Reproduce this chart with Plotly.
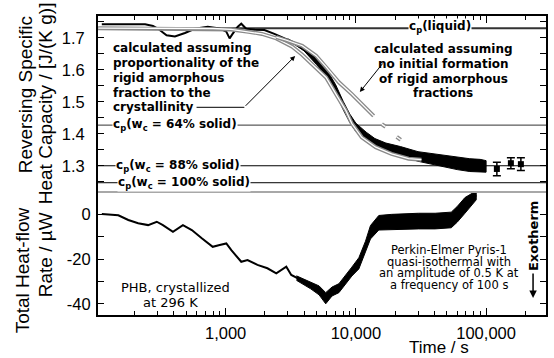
import plotly.graph_objects as go

# ---------------- data ----------------
# top panel: reversing specific heat capacity, J/(K g)
cp_t = [112, 179, 241, 277, 303, 352, 408, 487, 579, 729, 900, 1012, 1073, 1131, 1235, 1318, 1439,
        1664, 1985, 2367, 2723, 3363, 3802, 4227, 5036, 5910, 6560, 7680, 8530, 10000, 11120, 13250,
        16940, 22450, 30280, 45300, 61100, 86900, 100000]
cp_v = [1.742, 1.743, 1.742, 1.737, 1.728, 1.708, 1.704, 1.715, 1.728, 1.734, 1.729, 1.719, 1.698,
        1.712, 1.734, 1.744, 1.728, 1.725, 1.724, 1.712, 1.702, 1.685, 1.675, 1.653, 1.625, 1.592,
        1.555, 1.503, 1.462, 1.420, 1.399, 1.378, 1.358, 1.345, 1.328, 1.316, 1.306, 1.300, 1.298]
# scatter envelope of the noisy part
cpb_t = [3000, 4000, 5000, 6000, 7000, 8000, 9000, 10000, 12000, 14000, 17000, 22000, 30000,
         40000, 50000, 60000, 75000, 90000, 100000]
cpb_hi = [1.697, 1.669, 1.636, 1.599, 1.553, 1.501, 1.461, 1.433, 1.405, 1.385, 1.371, 1.360,
          1.344, 1.337, 1.331, 1.326, 1.322, 1.320, 1.316]
cpb_lo = [1.693, 1.659, 1.616, 1.575, 1.527, 1.475, 1.435, 1.407, 1.379, 1.359, 1.345, 1.332,
          1.314, 1.303, 1.295, 1.288, 1.282, 1.280, 1.280]

# calculated, proportional rigid amorphous fraction
calc1_t = [105, 800, 1100, 1500, 1900, 2450, 3250, 3870, 4620, 5910, 7030, 8390, 9310, 11100,
           14200, 18800, 25400, 31900]
calc1_v = [1.730, 1.729, 1.726, 1.719, 1.712, 1.698, 1.672, 1.647, 1.618, 1.576, 1.524, 1.472,
           1.432, 1.389, 1.358, 1.337, 1.322, 1.319]
# calculated, no initial rigid amorphous fraction
calc2_t = [2450, 2900, 3870, 4950, 5910, 7410, 9310, 11100, 13700]
calc2_v = [1.702, 1.693, 1.675, 1.644, 1.609, 1.561, 1.524, 1.493, 1.456]
calc2d_t = [15800, 16900, None, 20600, 22100]
calc2d_v = [1.430, 1.422, None, 1.390, 1.381]

# points with error bars
ep_t = [121000, 155000, 185000]
ep_v = [1.290, 1.308, 1.305]
ep_e = [0.021, 0.017, 0.020]

# reference heat-capacity levels
cp_liquid = 1.730
cp_64 = 1.427
cp_88 = 1.300
cp_100 = 1.247

# bottom panel: total heat-flow rate, microW
hf_t = [112, 126, 150, 179, 213, 254, 296, 330, 394, 470, 550, 656, 796, 900, 1012, 1106, 1318,
        1473, 1755, 2093, 2449, 2923, 3192, 4010, 4777, 5220, 5873, 6560, 7410, 8340, 9310, 10540,
        11860, 12950, 15000, 18840, 23940, 30270, 40600, 54000, 60000, 68800, 84000]
hf_v = [0.2, 0, -0.4, -2.5, -4, -4.8, -3.3, -4.8, -7.8, -4.8, -7, -10.7, -14.5, -13.7, -13, -16,
        -21.2, -20.4, -22.6, -24.1, -26.4, -23.4, -27.1, -30.1, -32.3, -34, -37.5, -34.5, -33,
        -29.3, -25.6, -21.9, -14.5, -8, -4, -3.5, -3.2, -3, -3, -2.5, 0, 4, 8.5]
hfb_t = [3500, 4500, 5220, 5870, 6560, 7410, 8340, 9310, 10540, 11860, 12950, 15000, 18840,
         23940, 30270, 40600, 54000, 60000, 68800, 84000]
hfb_hi = [-27.5, -30.3, -32, -35, -32.5, -31, -27.3, -23.6, -19.4, -12, -5, -0.5, 0, 0.3, 0.5,
          0.5, 1, 3.5, 7.5, 10.5]
hfb_lo = [-29.5, -33.3, -36, -40, -36.5, -35, -31.3, -27.6, -24.4, -17, -11, -7, -7, -6.7, -6.5,
          -6.5, -6, -3.5, 0.5, 6.5]

# axes ticks
x_major = [1000, 10000, 100000]
x_major_text = ["1,000", "10,000", "100,000"]
x_minor = [200, 300, 400, 500, 600, 700, 800, 900, 2000, 3000, 4000, 5000, 6000, 7000, 8000,
           9000, 20000, 30000, 40000, 50000, 60000, 70000, 80000, 90000, 200000]
y1_ticks = [1.25, 1.3, 1.35, 1.4, 1.45, 1.5, 1.55, 1.6, 1.65, 1.7, 1.75]
y1_text = ["", "1.3", "", "1.4", "", "1.5", "", "1.6", "", "1.7", ""]
y2_ticks = [-40, -30, -20, -10, 0]
y2_text = ["-40", "", "-20", "", "0"]

# ---------------- figure ----------------
L, R, T, B = 98, 548, 16, 315
W, H = 554, 358
SEP = 192


def px(x):
    return (x - L) / (R - L)


def py(y):
    return (B - y) / (B - T)


fig = go.Figure()

# noisy bands + measured curves
fig.add_trace(go.Scatter(x=cpb_t + cpb_t[::-1], y=cpb_hi + cpb_lo[::-1], fill="toself",
                         fillcolor="black", line=dict(color="black", width=1),
                         mode="lines", xaxis="x", yaxis="y", hoverinfo="skip"))
fig.add_trace(go.Scatter(x=cp_t, y=cp_v, mode="lines", line=dict(color="black", width=2),
                         xaxis="x", yaxis="y"))
# calculated curves (hollow gray look), drawn over the data
for tt, vv in [(calc1_t, calc1_v), (calc2_t, calc2_v), (calc2d_t, calc2d_v)]:
    fig.add_trace(go.Scatter(x=tt, y=vv, mode="lines", line=dict(color="#8a8a8a", width=4),
                             xaxis="x", yaxis="y", connectgaps=False))
    fig.add_trace(go.Scatter(x=tt, y=vv, mode="lines", line=dict(color="white", width=1.3),
                             xaxis="x", yaxis="y", connectgaps=False))
# error-bar points
fig.add_trace(go.Scatter(x=ep_t, y=ep_v, mode="markers",
                         marker=dict(symbol="square", size=6, color="black"),
                         error_y=dict(type="data", array=ep_e, color="black", thickness=1.5, width=4),
                         xaxis="x", yaxis="y"))

# heat flow
fig.add_trace(go.Scatter(x=hfb_t + hfb_t[::-1], y=hfb_hi + hfb_lo[::-1], fill="toself",
                         fillcolor="black", line=dict(color="black", width=1),
                         mode="lines", xaxis="x2", yaxis="y2", hoverinfo="skip"))
fig.add_trace(go.Scatter(x=hf_t, y=hf_v, mode="lines", line=dict(color="black", width=2),
                         xaxis="x2", yaxis="y2"))

# reference levels
shapes = []
for lvl, col, wd in [(cp_liquid, "#333333", 2), (cp_64, "#333333", 1), (cp_88, "black", 1),
                     (cp_100, "black", 1)]:
    shapes.append(dict(type="line", xref="paper", yref="y", x0=0, x1=1, y0=lvl, y1=lvl,
                       line=dict(color=col, width=wd), layer="below"))
# separator between panels
shapes.append(dict(type="line", xref="paper", yref="paper", x0=0, x1=1, y0=py(SEP), y1=py(SEP),
                   line=dict(color="#a8a8a8", width=2), layer="above"))
# leader line of left arrow
shapes.append(dict(type="line", xref="paper", yref="paper", x0=px(197), x1=px(245),
                   y0=py(107.3), y1=py(107.3), line=dict(color="black", width=1)))

bold_font = dict(family="DejaVu Sans", size=12, color="black")
ann = []


def text(s, x, y, font=None, xanchor="center", bg=None, angle=0):
    d = dict(text=s, xref="paper", yref="paper", x=px(x), y=py(y), showarrow=False,
             xanchor=xanchor, yanchor="middle", font=font or bold_font, textangle=angle,
             borderpad=0)
    if bg:
        d["bgcolor"] = bg
    ann.append(d)


for s, y in [("calculated assuming", 48.3), ("proportionality of the", 63.3),
             ("rigid amorphous", 78.3), ("fraction to the", 93.3), ("crystallinity", 107.3)]:
    text("<b>" + s + "</b>", 112, y, xanchor="left")
for s, y in [("calculated assuming", 49), ("no initial formation", 64),
             ("of rigid amorphous", 78.5), ("fractions", 93)]:
    text("<b>" + s + "</b>", 445, y)

text("<b>c<sub>p</sub>(liquid)</b>", 442, 27, bg="white")
text("<b>c<sub>p</sub>(w<sub>c</sub> = 64% solid)</b>", 112, 125, xanchor="left", bg="white")
text("<b>c<sub>p</sub>(w<sub>c</sub> = 88% solid)</b>", 115, 165.5, xanchor="left", bg="white")
text("<b>c<sub>p</sub>(w<sub>c</sub> = 100% solid)</b>", 117, 182.5, xanchor="left", bg="white")

reg = dict(family="DejaVu Sans", size=11.5, color="black")
for s, y in [("Perkin-Elmer Pyris-1", 250), ("quasi-isothermal with", 261.7),
             ("an amplitude of 0.5 K at", 273.4), ("a frequency of 100 s", 285)]:
    text(s, 451, y, font=reg)
phb = dict(family="DejaVu Sans", size=13, color="black")
text("PHB, crystallized", 176, 287.5, font=phb)
text("at 296 K", 171, 302, font=phb)
text("<b>Exotherm</b>", 535, 236, font=dict(family="DejaVu Sans", size=13, color="black"), angle=-90)

axt = dict(family="Liberation Sans, Arial", size=19, color="black")
text("Reversing Specific", 25, 95, font=axt, angle=-90)
text("Heat Capacity / [J/(K g)]", 45, 103, font=axt, angle=-90)
text("Total Heat-flow", 22, 270, font=axt, angle=-90)
text("Rate / µW", 45, 255, font=axt, angle=-90)
text("Time / s", 441, 347, font=dict(family="Liberation Sans, Arial", size=17, color="black"))

# arrows
ann.append(dict(xref="paper", yref="paper", x=px(296), y=py(56), ax=245 - 296, ay=107.3 - 56,
                showarrow=True, arrowhead=2, arrowsize=1, arrowwidth=1, arrowcolor="black", text=""))
ann.append(dict(xref="paper", yref="paper", x=px(361), y=py(92), ax=385 - 361, ay=62 - 92,
                showarrow=True, arrowhead=2, arrowsize=1, arrowwidth=1, arrowcolor="black", text=""))
ann.append(dict(xref="paper", yref="paper", x=px(535), y=py(298), ax=0, ay=-26,
                showarrow=True, arrowhead=2, arrowsize=1, arrowwidth=1.5, arrowcolor="black", text=""))

tickfont = dict(family="Liberation Sans, Arial", size=16.5, color="black")
xcommon = dict(type="log", range=[2.02, 5.46], showgrid=False, zeroline=False,
               tickmode="array", tickvals=x_major, ticks="inside", ticklen=7, tickwidth=1,
               tickcolor="black",
               minor=dict(tickmode="array", tickvals=x_minor, ticks="inside", ticklen=4,
                          tickwidth=1, tickcolor="black", showgrid=False),
               showline=True, linecolor="black", linewidth=2, mirror=False)
fig.update_layout(
    width=W, height=H, margin=dict(l=L, r=W - R, t=T, b=H - B),
    paper_bgcolor="white", plot_bgcolor="white", showlegend=False, hovermode=False,
    xaxis=dict(xcommon, domain=[0, 1], anchor="y", side="top", showticklabels=False),
    xaxis2=dict(xcommon, domain=[0, 1], anchor="y2", side="bottom", ticktext=x_major_text,
                tickfont=tickfont, ticklabelstandoff=2),
    yaxis=dict(domain=[py(SEP), 1], range=[1.218, 1.768], tickmode="array", tickvals=y1_ticks,
               ticktext=y1_text, ticks="inside", ticklen=6, tickcolor="black", showgrid=False,
               zeroline=False, showline=True, linecolor="black", linewidth=2, mirror="ticks",
               tickfont=tickfont, ticklabelstandoff=8),
    yaxis2=dict(domain=[0, py(SEP)], range=[-45, 10], tickmode="array", tickvals=y2_ticks,
                ticktext=y2_text, ticks="inside", ticklen=6, tickcolor="black", showgrid=False,
                zeroline=False, showline=True, linecolor="black", linewidth=2, mirror="ticks",
                tickfont=tickfont, ticklabelstandoff=2),
    shapes=shapes, annotations=ann,
)

fig.write_html("out.html")
